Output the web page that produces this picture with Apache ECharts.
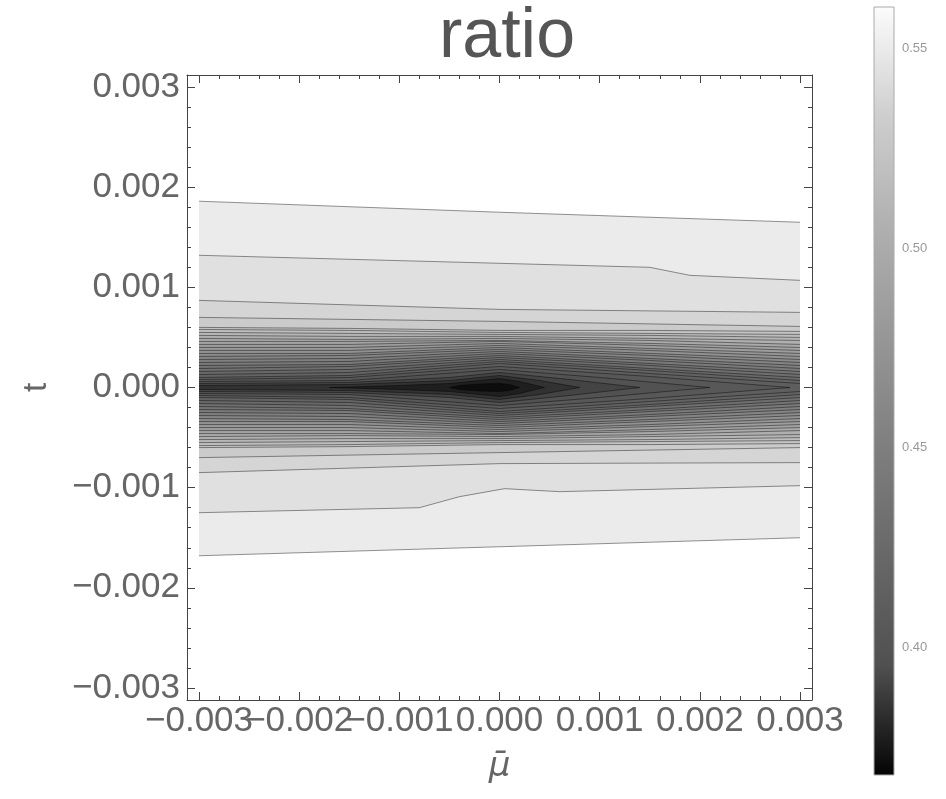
<!DOCTYPE html>
<html>
<head>
<meta charset="utf-8">
<title>ratio</title>
<script src="https://cdn.jsdelivr.net/npm/echarts@6/dist/echarts.min.js"></script>
<style>
  html, body { margin: 0; padding: 0; background: #fff; }
  #chart { width: 946px; height: 799px; }
</style>
</head>
<body>
<div id="chart"></div>
<script>
// contour values of ratio, low to high (one line per value)
let levels = [
    0.3746, 0.3813, 0.3879, 0.3945, 0.4012, 0.4078, 0.4145, 0.4211, 0.4277, 0.4344,
    0.4410, 0.4477, 0.4543, 0.4609, 0.4676, 0.4742, 0.4809, 0.4875, 0.4941, 0.5008,
    0.5074, 0.5141, 0.5207, 0.5273, 0.5340, 0.5406, 0.5473, 0.5539
];
let ratioMin = 0.368;
let ratioMax = 0.5605;

// legend grays, evenly spread from ratioMin to ratioMax
let grayStops = ['#040404', '#505050', '#686868', '#7f7f7f', '#979797', '#b0b0b0', '#cecece', '#fcfcfc'];

// the lowest contours, around the minimum: [mu, half height in t]
let innerHalf = [
    [[-0.0005, 0], [-0.0004, 0.00002], [-0.0002, 0.000035], [0, 0.00004], [0.0001, 0.00003], [0.0002, 0]],
    [[-0.0017, 0], [-0.001, 0.00002], [-0.0005, 0.00004], [-0.0002, 0.00007], [0, 0.00009], [0.0002, 0.00006], [0.00045, 0]],
    [[-0.003, 0.00002], [-0.0015, 0.00003], [-0.0005, 0.00007], [0, 0.00012], [0.0004, 0.00007], [0.0008, 0]],
    [[-0.003, 0.00004], [-0.0015, 0.00005], [-0.0005, 0.0001], [0, 0.00015], [0.0007, 0.00008], [0.0014, 0]],
    [[-0.003, 0.00006], [-0.0015, 0.00007], [0, 0.00018], [0.001, 0.0001], [0.0021, 0]],
    [[-0.003, 0.00008], [-0.0015, 0.0001], [0, 0.00021], [0.0015, 0.00011], [0.0029, 0]]
];

// dense band: half height in t of each contour at these mu
let denseMu = [-0.003, -0.0015, 0, 0.0015, 0.003];
let denseHalf = [
    [0.00010, 0.00012, 0.00024, 0.00014, 0.00004],
    [0.00013, 0.00015, 0.00026, 0.00017, 0.00007],
    [0.00016, 0.00018, 0.00028, 0.00019, 0.00010],
    [0.00019, 0.00021, 0.00030, 0.00022, 0.00013],
    [0.00022, 0.00023, 0.00032, 0.00024, 0.00016],
    [0.00025, 0.00026, 0.00034, 0.00027, 0.00019],
    [0.00028, 0.00029, 0.00036, 0.00029, 0.00022],
    [0.00031, 0.00032, 0.00038, 0.00032, 0.00025],
    [0.00034, 0.00034, 0.00040, 0.00034, 0.00028],
    [0.00037, 0.00037, 0.00042, 0.00037, 0.00031],
    [0.00040, 0.00040, 0.00044, 0.00039, 0.00034],
    [0.00043, 0.00043, 0.00046, 0.00042, 0.00037],
    [0.00046, 0.00046, 0.00047, 0.00044, 0.00040],
    [0.00049, 0.00048, 0.00049, 0.00047, 0.00043],
    [0.00052, 0.00051, 0.00051, 0.00049, 0.00047],
    [0.00055, 0.00054, 0.00053, 0.00052, 0.00050],
    [0.00058, 0.00057, 0.00055, 0.00054, 0.00053],
    [0.00060, 0.00059, 0.00057, 0.00057, 0.00056]
];

// the four outer contours: upper and lower branches [mu, t]
let outerUpper = [
    [[-0.003, 0.00070], [0, 0.00066], [0.003, 0.00061]],
    [[-0.003, 0.00087], [0, 0.00078], [0.003, 0.00075]],
    [[-0.003, 0.00132], [0, 0.00124], [0.0015, 0.00120], [0.0019, 0.00112], [0.003, 0.00107]],
    [[-0.003, 0.00186], [0, 0.00175], [0.003, 0.00165]]
];
let outerLower = [
    [[-0.003, -0.00070], [0, -0.00065], [0.003, -0.00060]],
    [[-0.003, -0.00085], [0, -0.00076], [0.003, -0.00075]],
    [[-0.003, -0.00125], [-0.0008, -0.00120], [-0.0004, -0.00109], [0.00005, -0.00101], [0.0006, -0.00104], [0.003, -0.00098]],
    [[-0.003, -0.00168], [0, -0.00159], [0.003, -0.00150]]
];

let axisTicks = [-0.003, -0.002, -0.001, 0, 0.001, 0.002, 0.003];
// the bottom labels touch each other, so they sit on two axes to keep all of them
let xLabelsOdd = [-0.003, -0.001, 0.001, 0.003];
let xLabelsEven = [-0.002, 0, 0.002];
let legendLabels = [0.40, 0.45, 0.50, 0.55];

let minorTicks = [];
for (let k = -15; k <= 15; k++) {
    if (k % 5 !== 0) minorTicks.push(+(k * 0.0002).toFixed(4));
}
let legendTicks = [];
for (let k = 37; k <= 56; k++) legendTicks.push(k / 100);

// region k = area below contour k, with both branches
let regions = [];
innerHalf.forEach(h => regions.push({
    upper: h.map(p => [p[0], p[1]]),
    lower: h.map(p => [p[0], -p[1]])
}));
denseHalf.forEach(row => regions.push({
    upper: denseMu.map((m, i) => [m, row[i]]),
    lower: denseMu.map((m, i) => [m, -row[i]])
}));
outerUpper.forEach((u, i) => regions.push({ upper: u, lower: outerLower[i] }));

// biggest first so the inner ones paint over
let bandData = regions.map((r, i) => {
    let lo = i === 0 ? ratioMin : levels[i - 1];
    return [0, 0, i, (lo + levels[i]) / 2];
}).reverse();

let FONT = '"Liberation Sans", Arial, sans-serif';
let frameColor = '#444';
let tickText = v => (v < 0 ? '\u2212' : '') + Math.abs(v).toFixed(3);

function frameAxis(pos, major, labels, extra) {
    let isX = pos === 'bottom' || pos === 'top';
    return Object.assign({
        type: 'value',
        gridIndex: 0,
        position: pos,
        min: -0.00312,
        max: 0.00312,
        axisLine: { show: major, onZero: false, lineStyle: { color: frameColor, width: 1 } },
        axisTick: {
            show: true, inside: true, length: major ? 8 : 4,
            customValues: major ? axisTicks : minorTicks,
            lineStyle: { color: frameColor, width: 1 }
        },
        axisLabel: labels ? {
            show: true, customValues: labels, formatter: tickText,
            showMinLabel: true, showMaxLabel: true, hideOverlap: false,
            fontFamily: FONT, fontSize: 35, color: '#666', margin: isX ? 4 : 7
        } : { show: false },
        splitLine: { show: false }
    }, extra || {});
}

let chart = echarts.init(document.getElementById('chart'));

let option = {
    backgroundColor: '#fff',
    animation: false,
    title: {
        text: 'ratio',
        left: 502,
        top: -2,
        textAlign: 'center',
        textStyle: { fontFamily: FONT, fontSize: 70, fontWeight: 'normal', color: '#555' }
    },
    grid: [
        { left: 187, top: 75, width: 625, height: 625, containLabel: false, outerBoundsMode: 'none' },
        { left: 874, top: 7, width: 20, height: 768, containLabel: false, outerBoundsMode: 'none' }
    ],
    xAxis: [
        frameAxis('bottom', true, xLabelsOdd, {
            name: '\u03bc\u0304', nameLocation: 'middle', nameGap: 50, nameMoveOverlap: false,
            nameTextStyle: { fontFamily: '"DejaVu Sans", sans-serif', fontSize: 34, fontStyle: 'italic', color: '#666' }
        }),
        frameAxis('bottom', false, xLabelsEven),
        frameAxis('top', true, null),
        frameAxis('top', false, null),
        { type: 'value', gridIndex: 1, min: 0, max: 1, show: false }
    ],
    yAxis: [
        frameAxis('left', true, axisTicks, {
            name: 't', nameLocation: 'middle', nameGap: 134, nameMoveOverlap: false,
            nameTextStyle: { fontFamily: FONT, fontSize: 33, color: '#666' }
        }),
        frameAxis('left', false, null),
        frameAxis('right', true, null),
        frameAxis('right', false, null),
        {
            type: 'value', gridIndex: 1, position: 'right', min: ratioMin, max: ratioMax,
            axisLine: { show: false },
            axisTick: { show: true, length: 4, customValues: legendTicks, lineStyle: { color: '#aaa' } },
            axisLabel: {
                show: true, customValues: legendLabels, formatter: v => v.toFixed(2),
                fontFamily: FONT, fontSize: 13, color: '#999', margin: 8
            },
            splitLine: { show: false }
        }
    ],
    visualMap: {
        show: false,
        type: 'continuous',
        seriesIndex: 0,
        dimension: 3,
        min: ratioMin,
        max: ratioMax,
        inRange: { color: grayStops }
    },
    series: [
        {
            type: 'custom',
            xAxisIndex: 0,
            yAxisIndex: 0,
            data: bandData,
            renderItem: (params, api) => {
                let r = regions[api.value(2)];
                let pts = r.upper.concat(r.lower.slice().reverse()).map(p => api.coord(p));
                return {
                    type: 'polygon',
                    z2: params.dataIndex,
                    shape: { points: pts },
                    style: { fill: api.visual('color'), stroke: null }
                };
            }
        },
        {
            type: 'custom',
            xAxisIndex: 0,
            yAxisIndex: 0,
            z: 3,
            data: bandData,
            renderItem: (params, api) => {
                let r = regions[api.value(2)];
                let style = { stroke: 'rgba(0,0,0,0.42)', lineWidth: 1, fill: 'none' };
                return {
                    type: 'group',
                    children: [
                        { type: 'polyline', shape: { points: r.upper.map(p => api.coord(p)) }, style: style },
                        { type: 'polyline', shape: { points: r.lower.map(p => api.coord(p)) }, style: style }
                    ]
                };
            }
        },
        {
            type: 'custom',
            xAxisIndex: 4,
            yAxisIndex: 4,
            data: [[0, ratioMin]],
            renderItem: (params, api) => {
                let p0 = api.coord([0, ratioMax]);
                let p1 = api.coord([1, ratioMin]);
                let stops = grayStops.slice().reverse().map((c, i, a) => ({ offset: i / (a.length - 1), color: c }));
                return {
                    type: 'rect',
                    shape: { x: p0[0], y: p0[1], width: p1[0] - p0[0], height: p1[1] - p0[1] },
                    style: { fill: new echarts.graphic.LinearGradient(0, 0, 0, 1, stops), stroke: '#aaa', lineWidth: 1 }
                };
            }
        }
    ]
};

chart.setOption(option);
</script>
</body>
</html>
